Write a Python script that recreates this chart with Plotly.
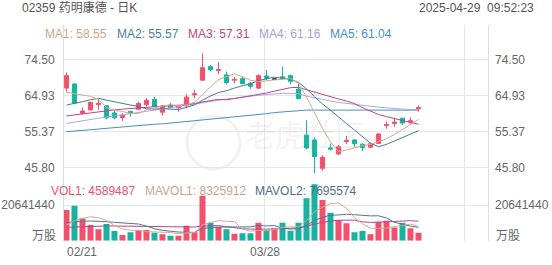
import plotly.graph_objects as go

# ---------------- data ----------------
idx = list(range(45))
opens = [66.9, 68.0, 60.2, 61.1, 62.5, 62.2, 60.3, 59.1, 60.7, 61.3, 62.5, 63.9, 60.5, 62.4, 61.7,
         62.2, 65.1, 69.0, 72.6, 71.6, 70.4, 69.0, 69.4, 68.1, 66.9, 70.1, 69.3, 69.9, 70.2, 66.6,
         54.4, 53.1, 45.6, 51.0, 49.4, 52.7, 53.1, 52.0, 51.2, 52.2, 57.0, 57.5, 58.9, 57.9, 61.4]
highs = [71.1, 68.2, 61.8, 63.3, 64.1, 62.4, 60.8, 60.2, 60.8, 63.3, 64.3, 64.6, 62.4, 63.0, 62.4,
         65.3, 66.5, 76.1, 73.0, 73.8, 71.3, 69.9, 70.0, 68.6, 70.6, 71.7, 69.4, 72.6, 70.5, 68.2,
         58.4, 53.8, 49.1, 52.2, 51.8, 54.2, 53.3, 52.2, 52.3, 54.9, 58.0, 58.7, 59.0, 59.1, 62.3]
lows = [65.9, 62.6, 59.9, 61.0, 61.1, 58.6, 58.6, 58.2, 59.3, 61.1, 62.0, 61.9, 59.6, 61.5, 60.6,
        61.5, 64.2, 68.9, 71.3, 70.6, 67.9, 68.2, 67.9, 66.7, 66.6, 69.0, 69.2, 69.0, 67.9, 63.9,
        50.6, 44.3, 45.0, 50.4, 49.1, 52.0, 51.3, 50.2, 51.0, 52.1, 56.1, 56.6, 57.1, 57.1, 60.6]
closes = [70.2, 62.9, 60.8, 63.1, 62.8, 59.0, 59.0, 59.7, 60.3, 62.8, 63.6, 62.0, 62.1, 61.7, 62.0,
          64.5, 65.4, 72.3, 71.8, 71.8, 68.4, 69.2, 68.1, 67.4, 70.2, 69.5, 69.3, 69.5, 68.7, 64.1,
          51.0, 48.7, 48.5, 50.7, 51.3, 53.0, 52.1, 51.1, 52.1, 54.7, 57.2, 57.8, 57.6, 58.2, 61.7]

ma1 = [65.8, 65.4, 65.1, 64.7, 63.96, 61.72, 60.94, 60.72, 60.16, 60.16, 61.08, 61.68, 62.16, 62.44, 62.28,
       62.46, 63.14, 65.18, 67.2, 69.16, 69.94, 70.7, 69.86, 68.98, 68.66, 68.88, 68.9, 69.18, 69.44, 68.22,
       64.52, 60.4, 56.2, 52.6, 50.04, 50.44, 51.12, 51.64, 51.92, 52.6, 53.44, 54.58, 55.88, 57.1, 58.55]
ma2 = [62.4, 62.8, 63.3, 63.8, 64.2, 63.7, 63.2, 62.8, 62.4, 62.06, 61.4, 61.31, 61.44, 61.3, 61.22,
       61.77, 62.41, 63.67, 64.82, 65.72, 66.2, 66.92, 67.52, 68.09, 68.91, 69.41, 69.8, 69.52, 69.21, 68.44,
       66.7, 64.65, 62.69, 61.02, 59.13, 57.48, 55.76, 53.92, 52.26, 51.32, 51.94, 52.85, 53.76, 54.51, 55.57]
ma3 = [59.5, 59.8, 60.1, 60.4, 60.7, 60.9, 61.1, 61.3, 61.5, 61.7, 61.9, 62.0, 62.1, 62.2, 62.3,
       62.5, 62.8, 63.3, 63.6, 63.89, 63.8, 64.12, 64.48, 64.7, 65.07, 65.59, 66.1, 66.6, 67.02, 67.08,
       66.45, 65.79, 65.1, 64.56, 64.02, 63.45, 62.78, 61.72, 60.74, 59.88, 59.32, 58.75, 58.23, 57.77, 57.31]
ma4 = [57.5, 57.9, 58.3, 58.6, 58.9, 59.2, 59.5, 59.8, 60.1, 60.4, 60.7, 61.0, 61.3, 61.6, 61.9,
       62.2, 62.6, 63.0, 63.4, 63.7, 64.0, 64.2, 64.5, 64.7, 65.0, 65.2, 65.4, 65.5, 65.5, 65.41,
       64.77, 64.29, 63.88, 63.47, 63.09, 62.89, 62.66, 62.37, 62.1, 61.83, 61.61, 61.47, 61.32, 61.21, 61.16]
ma5 = [55.3, 55.5, 55.7, 55.9, 56.0, 56.2, 56.4, 56.5, 56.7, 56.9, 57.1, 57.3, 57.4, 57.6, 57.7,
       57.9, 58.1, 58.4, 58.7, 58.9, 59.1, 59.3, 59.5, 59.7, 59.9, 60.1, 60.4, 60.6, 60.8, 61.0,
       61.05, 61.05, 61.05, 61.0, 61.0, 61.0, 61.0, 61.0, 61.0, 61.0, 61.0, 61.0, 61.0, 61.0, 61.04]

# volume in millions of shares
vol = [17.75, 20.2, 12.9, 9.1, 6.6, 9.7, 5.6, 3.3, 4.9, 6.2, 6.2, 4.6, 3.7, 2.9, 2.9,
       8.7, 4.9, 26.0, 10.4, 8.1, 6.6, 4.0, 4.3, 4.3, 10.4, 6.2, 7.2, 10.4, 5.8, 10.4,
       24.5, 32.6, 23.5, 16.2, 12.0, 10.1, 4.9, 5.6, 3.7, 11.0, 11.6, 7.7, 10.4, 7.2, 4.589487]
mavol1 = [9.0, 11.5, 13.0, 13.8, 13.31, 11.7, 8.78, 6.86, 6.02, 5.94, 5.24, 5.04, 5.12, 4.72, 4.06,
          4.56, 4.62, 9.08, 10.58, 11.62, 11.2, 11.02, 6.68, 5.46, 5.92, 5.84, 6.48, 7.7, 8.0, 8.0,
          11.66, 16.74, 19.36, 21.44, 21.76, 18.88, 13.34, 9.76, 7.26, 7.06, 7.36, 7.92, 8.88, 9.58, 8.33]
mavol2 = [10.5, 11.0, 11.3, 11.4, 11.3, 11.0, 10.6, 10.2, 9.9, 9.63, 8.47, 6.91, 5.99, 5.37, 5.0,
          4.9, 4.83, 7.1, 7.65, 7.84, 7.88, 7.82, 7.88, 8.02, 8.77, 8.52, 8.75, 7.19, 6.73, 6.96,
          8.75, 11.61, 13.53, 14.72, 14.88, 15.27, 15.04, 14.56, 14.35, 14.41, 13.12, 10.63, 9.32, 8.42, 7.70]
mavol3 = [7.8, 8.0, 8.2, 8.3, 8.4, 8.5, 8.5, 8.4, 8.4, 8.3, 8.2, 8.1, 8.0, 7.9, 7.8,
          7.9, 7.9, 8.5, 8.7, 8.73, 8.18, 7.37, 6.94, 6.7, 6.89, 6.71, 6.79, 7.15, 7.19, 7.4,
          8.32, 9.72, 10.71, 11.37, 11.83, 11.9, 11.9, 10.88, 10.54, 10.69, 10.94, 11.12, 11.43, 11.57, 11.28]

price_ticks = [45.80, 55.37, 64.93, 74.50]
price_tick_text = ["45.80", "55.37", "64.93", "74.50"]
vol_tick = 20.64144
vol_tick_text = "20641440"
x_labels = ["02/21", "03/28"]
x_label_pos = [-0.19, 24.81]

title_text = "02359 药明康德 - 日K"
time_text = "2025-04-29  09:52:23"
ma_legend = ["MA1: 58.55", "MA2: 55.57", "MA3: 57.31", "MA4: 61.16", "MA5: 61.04"]
vol_legend = ["VOL1: 4589487", "MAVOL1: 8325912", "MAVOL2: 7695574"]

# ---------------- style ----------------
RED = "#f2506c"
TEAL = "#17b2a0"
MA_COLORS = ["#d8aa8c", "#4a7898", "#b8478a", "#a8aae2", "#4a8fc2"]
MA_TEXT_COLORS = ["#cfa486", "#4a7ea6", "#b8478a", "#9ea3dc", "#3f8fcc"]
VOL_MA_COLORS = ["#d8aa8c", "#4a7898", "#b8478a"]
VOL_TEXT_COLORS = ["#f0506e", "#c9a48c", "#4d6f8e"]
GRID = "#e6e6e6"
FONT = "Liberation Sans, Arial, Noto Sans CJK SC, sans-serif"
LABEL = "#666666"

W, H = 552, 265
L, R = 64, 64
PW = W - L - R


def px_x(px):
    return (px - L) / PW


def px_y(py):
    return 1 - py / H


# price panel from y=25 to y=178 ; volume from 178 to 240.7
price_dom = [px_y(178), px_y(25)]
vol_dom = [px_y(240.7), px_y(178)]
ppp = 3.763  # px per price unit
price_range = [74.5 - (178 - 59.5) / ppp, 74.5 + (59.5 - 25) / ppp]
vol_per_px = vol_tick / 35.7
vol_range = [0, (240.7 - 178) * vol_per_px]

fig = go.Figure()

doji = [o == c for o, c in zip(opens, closes)]
fig.add_trace(go.Candlestick(
    x=idx,
    open=[None if d else v for v, d in zip(opens, doji)],
    high=[None if d else v for v, d in zip(highs, doji)],
    low=[None if d else v for v, d in zip(lows, doji)],
    close=[None if d else v for v, d in zip(closes, doji)],
    increasing=dict(line=dict(color=RED, width=1), fillcolor=RED),
    decreasing=dict(line=dict(color=TEAL, width=1), fillcolor=TEAL),
    whiskerwidth=0, xaxis="x", yaxis="y", showlegend=False, hoverinfo="skip"))
fig.add_trace(go.Candlestick(
    x=idx,
    open=[v if d else None for v, d in zip(opens, doji)],
    high=[v if d else None for v, d in zip(highs, doji)],
    low=[v if d else None for v, d in zip(lows, doji)],
    close=[v if d else None for v, d in zip(closes, doji)],
    increasing=dict(line=dict(color="#333333", width=1), fillcolor="#333333"),
    decreasing=dict(line=dict(color="#333333", width=1), fillcolor="#333333"),
    whiskerwidth=0, xaxis="x", yaxis="y", showlegend=False, hoverinfo="skip"))

for series, col in zip([ma5, ma4, ma3, ma2, ma1], MA_COLORS[::-1]):
    fig.add_trace(go.Scatter(x=idx, y=series, mode="lines", line=dict(color=col, width=1),
                             xaxis="x", yaxis="y", showlegend=False, hoverinfo="skip"))

bar_colors = [RED if c >= o else TEAL for o, c in zip(opens, closes)]
fig.add_trace(go.Bar(x=idx, y=vol, marker=dict(color=bar_colors, line=dict(width=0)),
                     xaxis="x2", yaxis="y2", showlegend=False, hoverinfo="skip"))
for series, col in zip([mavol3, mavol2, mavol1], VOL_MA_COLORS[::-1]):
    fig.add_trace(go.Scatter(x=idx, y=series, mode="lines", line=dict(color=col, width=1),
                             xaxis="x2", yaxis="y2", showlegend=False, hoverinfo="skip"))

xr = [-0.31, 52.69]
xcommon = dict(range=xr, showticklabels=False, tickvals=[24.81, 49.81], showgrid=True,
               gridcolor=GRID, gridwidth=1, zeroline=False, ticks="", fixedrange=True)
tickfont = dict(family=FONT, size=12, color=LABEL)

annotations = []
annotations.append(dict(text=title_text, x=px_x(20), y=px_y(8), xref="paper", yref="paper",
                        xanchor="left", yanchor="middle", showarrow=False,
                        font=dict(family=FONT, size=12, color="#555555")))
annotations.append(dict(text=time_text, x=px_x(536), y=px_y(8), xref="paper", yref="paper",
                        xanchor="right", yanchor="middle", showarrow=False,
                        font=dict(family=FONT, size=12, color="#555555")))
for txt, col, xp in zip(ma_legend, MA_TEXT_COLORS, [43.3, 115, 186, 257, 327.7]):
    annotations.append(dict(text=txt, x=px_x(xp), y=px_y(34), xref="paper", yref="paper",
                            xanchor="left", yanchor="middle", showarrow=False,
                            font=dict(family=FONT, size=12, color=col)))
for txt, col, xp in zip(vol_legend, VOL_TEXT_COLORS, [49, 143, 253.3]):
    annotations.append(dict(text=txt, x=px_x(xp), y=px_y(191), xref="paper", yref="paper",
                            xanchor="left", yanchor="middle", showarrow=False,
                            font=dict(family=FONT, size=12, color=col)))
for txt, xv, anc in zip(x_labels, x_label_pos, ["left", "center"]):
    annotations.append(dict(text=txt, x=xv, y=px_y(252), xref="x2", yref="paper",
                            xanchor=anc, yanchor="middle", showarrow=False, font=tickfont))
for xp, anc in [(px_x(57.5), "right"), (px_x(494), "left")]:
    annotations.append(dict(text="万股", x=xp, y=(240.7 - 236) * vol_per_px, xref="paper", yref="y2",
                            xanchor=anc, yanchor="middle", showarrow=False, font=tickfont))
# watermark
annotations.append(dict(text="老虎社区", x=px_x(305), y=px_y(133), xref="paper", yref="paper",
                        xanchor="center", yanchor="middle", showarrow=False,
                        font=dict(family="Noto Sans CJK SC", size=30, color="rgba(160,160,160,0.13)")))

fig.update_layout(
    width=W, height=H, margin=dict(l=L, r=R, t=0, b=0),
    paper_bgcolor="white", plot_bgcolor="white",
    boxgap=0.25, bargap=0.25, showlegend=False,
    xaxis=dict(domain=[0, 1], anchor="y", rangeslider=dict(visible=False), **xcommon),
    xaxis2=dict(domain=[0, 1], anchor="y2", matches="x", **xcommon),
    yaxis=dict(domain=price_dom, range=price_range, tickvals=price_ticks, ticktext=price_tick_text,
               showgrid=True, gridcolor=GRID, zeroline=False, showline=True, mirror=True,
               linecolor="#dddddd", linewidth=1, ticks="", ticklabelstandoff=6, tickfont=tickfont,
               fixedrange=True),
    yaxis3=dict(overlaying="y", side="right", range=price_range, tickvals=price_ticks,
                ticktext=price_tick_text, showgrid=False, zeroline=False, showline=False, ticks="",
                ticklabelstandoff=6, tickfont=tickfont, fixedrange=True),
    yaxis2=dict(domain=vol_dom, range=vol_range, tickvals=[0, vol_tick], ticktext=["", vol_tick_text],
                showgrid=True, gridcolor=GRID, zeroline=False, showline=True, mirror=True,
                linecolor="#dddddd", linewidth=1, ticks="", ticklabelstandoff=6, tickfont=tickfont,
                fixedrange=True),
    yaxis4=dict(overlaying="y2", side="right", range=vol_range, tickvals=[0, vol_tick],
                ticktext=["", vol_tick_text], showgrid=False, zeroline=False, showline=False, ticks="",
                ticklabelstandoff=6, tickfont=tickfont, fixedrange=True),
    annotations=annotations,
    shapes=[dict(type="circle", xref="paper", yref="paper", x0=px_x(187), x1=px_x(240),
                 y0=px_y(169), y1=px_y(116), line=dict(color="rgba(160,160,160,0.15)", width=3),
                 layer="below")],
)

# dummy traces so the right-side axes render
fig.add_trace(go.Scatter(x=[None], y=[None], xaxis="x", yaxis="y3", showlegend=False))
fig.add_trace(go.Scatter(x=[None], y=[None], xaxis="x2", yaxis="y4", showlegend=False))

fig.write_html("out.html")
